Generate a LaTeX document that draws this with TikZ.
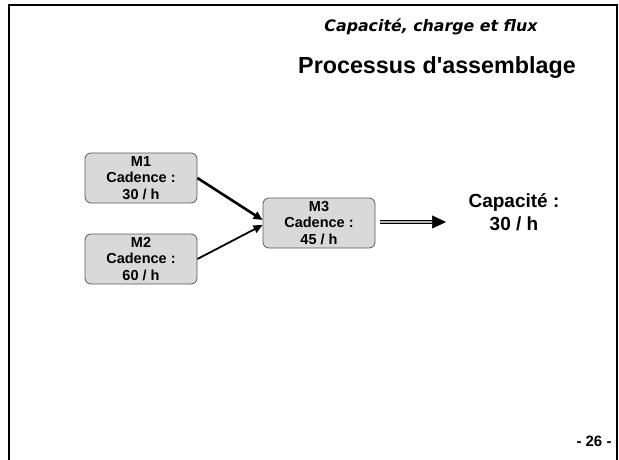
\documentclass[tikz,border=0pt]{standalone}
\usepackage{fontspec}
\setmainfont{Liberation Sans}
\newfontfamily\verdfont{DejaVu Sans}
\usetikzlibrary{arrows.meta, positioning}
\definecolor{boxgray}{rgb}{0.85,0.85,0.85}
\definecolor{edgegray}{rgb}{0.35,0.35,0.35}

\begin{document}
\begin{tikzpicture}[x=1pt, y=-1pt,
  machine/.style={draw=edgegray, fill=boxgray, rounded corners=6pt, line width=0.8pt,
    minimum width=112pt, minimum height=50pt, inner sep=1pt, align=center,
    font=\fontsize{14.5}{16.5}\selectfont\bfseries},
  feed/.style={-{Triangle[length=9pt,width=8pt]}}]
\useasboundingbox (0,0) rectangle (619,459);
\draw[line width=2.5pt] (9,475) -- (9,5) -- (617,5) -- (617,475);
\node (sujet) at (431,27) {\verdfont\fontsize{15.8}{18}\selectfont\bfseries\itshape Capacité, charge et flux};
\node (titre) at (437,68) {\fontsize{23.3}{28}\selectfont\bfseries Processus d\textquotesingle assemblage};
\node[machine] (m1) at (141,178) {M1\\Cadence :\\30 / h};
\node[machine] (m2) at (141,259) {M2\\Cadence :\\60 / h};
\node[machine] (m3) at (319,223) {M3\\Cadence :\\45 / h};
\node[align=center, font=\fontsize{19}{22.5}\selectfont\bfseries] (cap) at (514,212) {Capacité :\\30 / h};
\coordinate (hb) at (432,222);
\coordinate (tip) at (446,222);
\draw[feed, line width=2.6pt] (m1.east) -- ([yshift=3pt]m3.west);
\draw[feed, line width=1.8pt] (m2.east) -- ([yshift=-2pt]m3.west);
\draw[double=gray!60, double distance=1.4pt, line width=1.1pt] ([xshift=5pt]m3.east |- hb) -- (hb);
\draw[-{Triangle[length=14pt,width=13pt]}, line width=0.5pt] (hb) -- (tip);
\node (page) at (594,441) {\fontsize{15}{18}\selectfont\bfseries - 26 -};
\end{tikzpicture}
\end{document}
